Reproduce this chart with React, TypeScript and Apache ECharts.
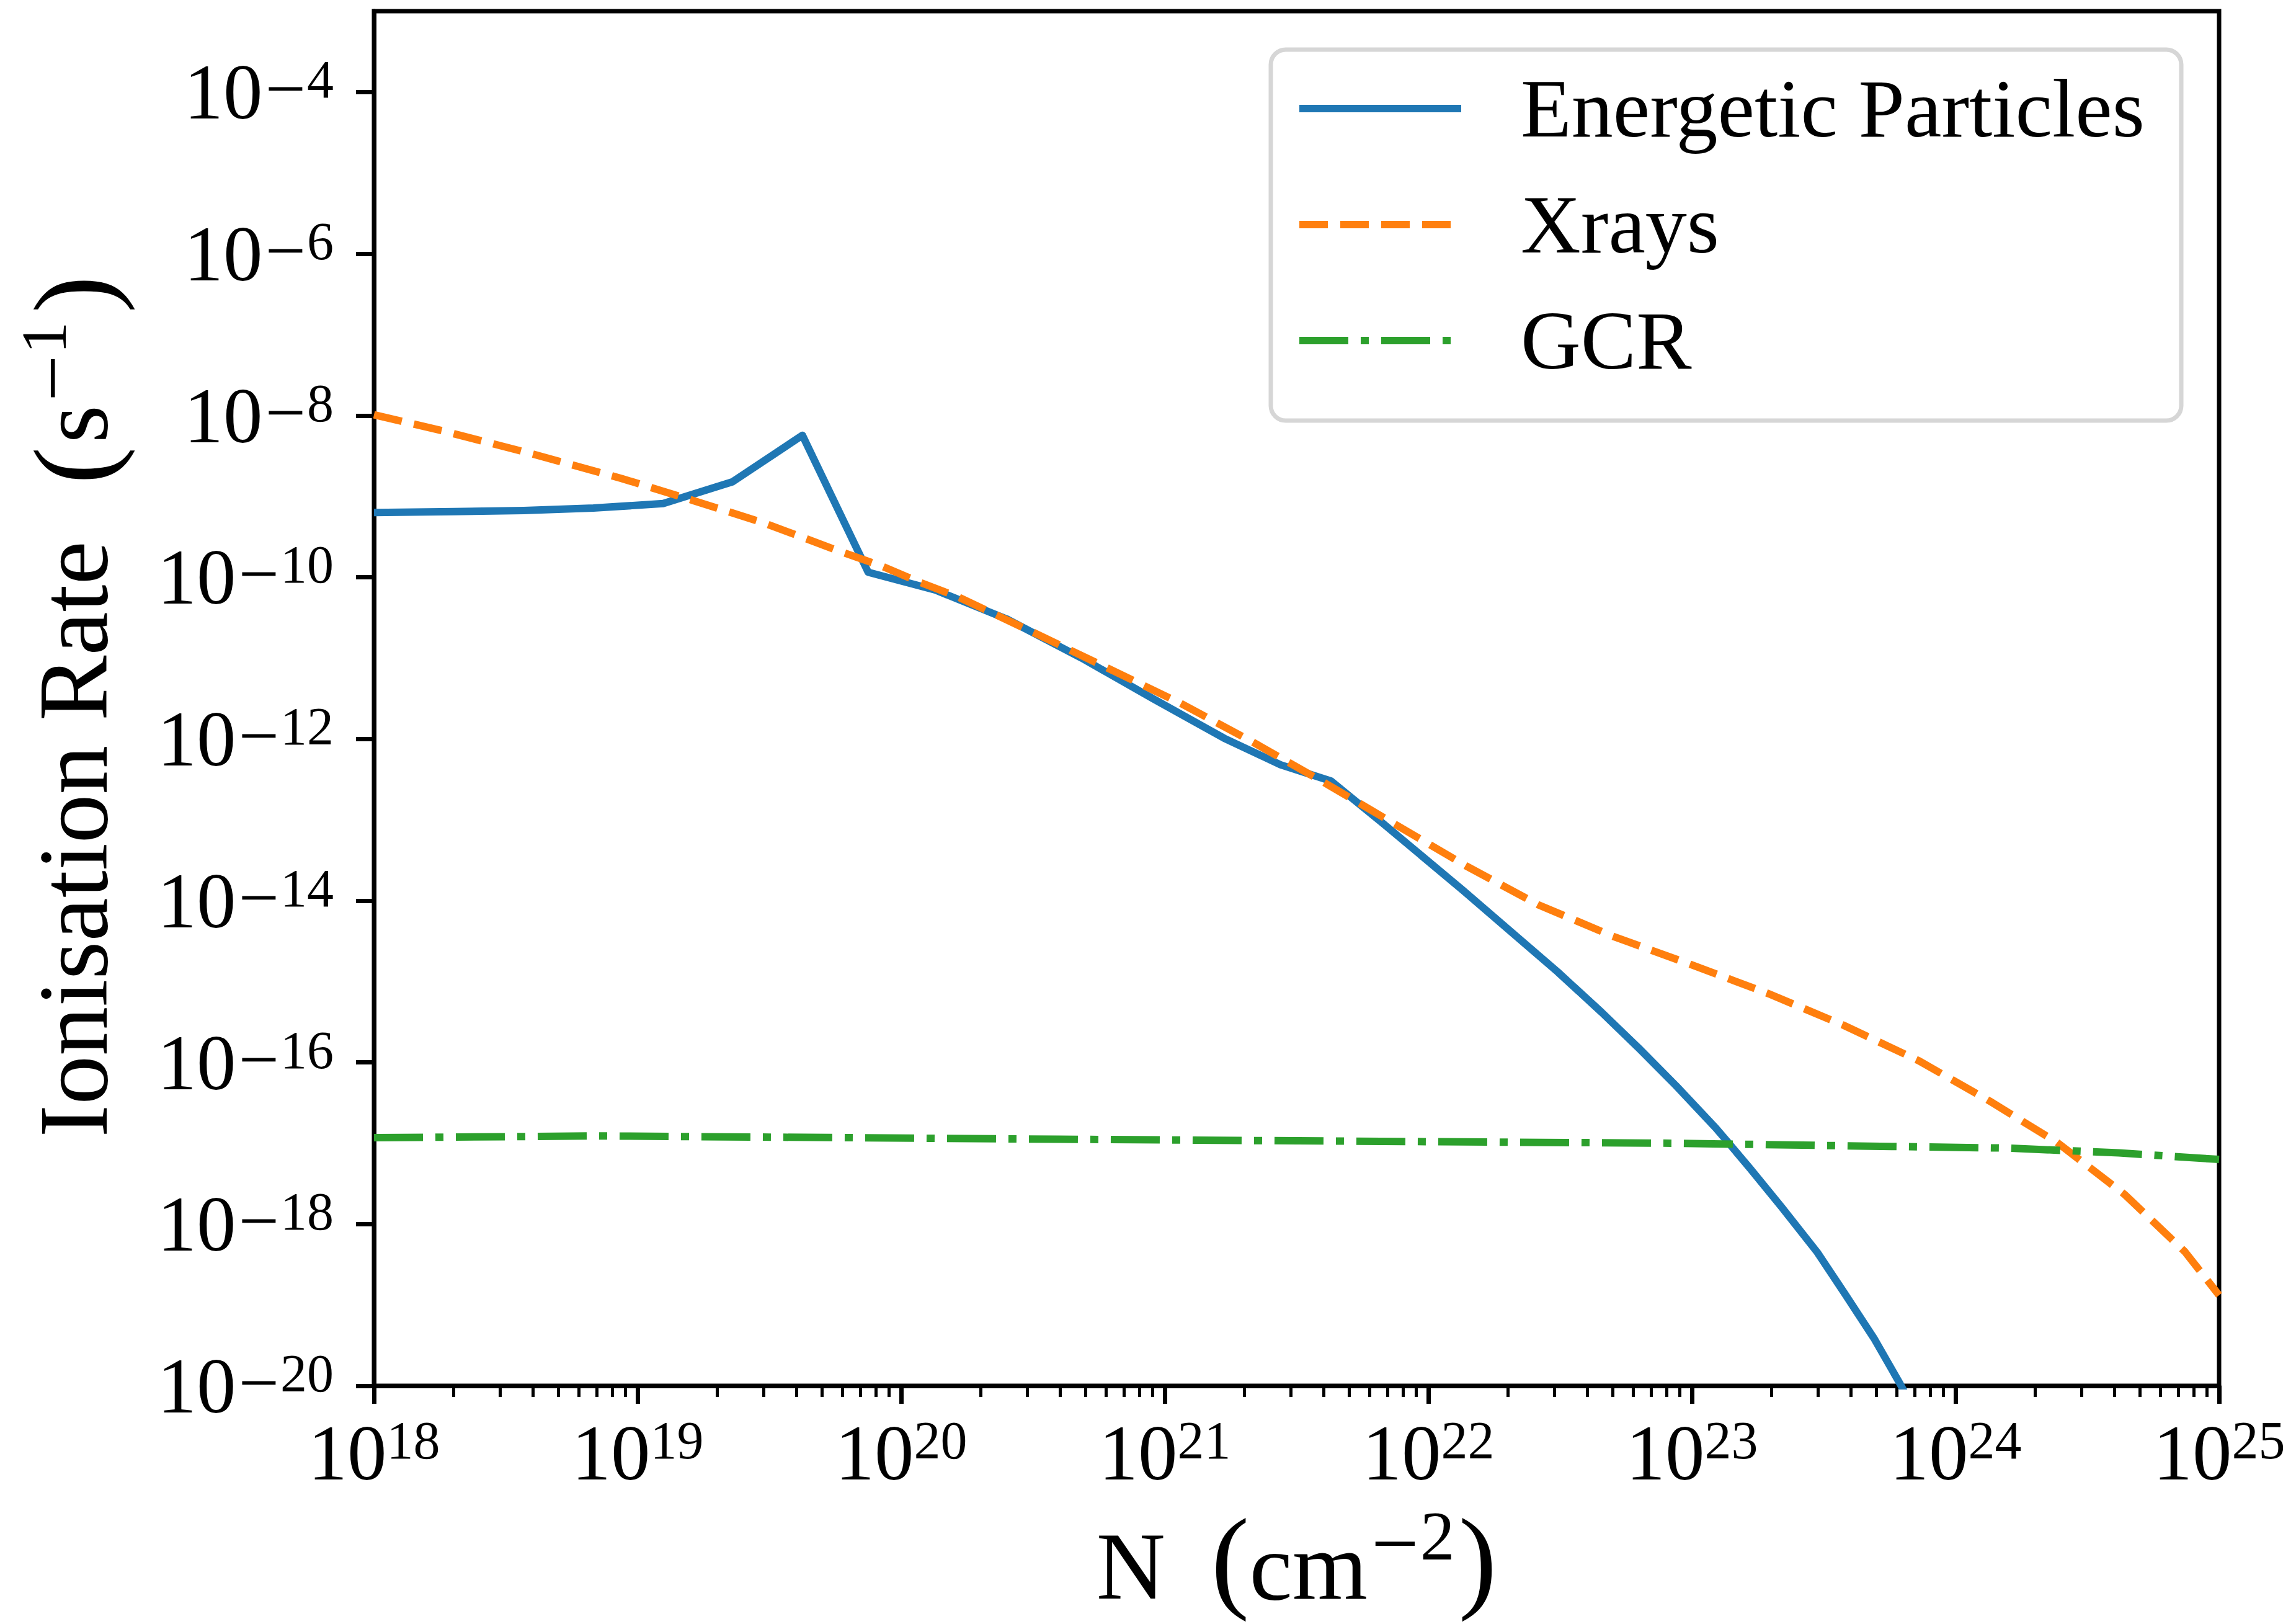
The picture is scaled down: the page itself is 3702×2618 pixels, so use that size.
import { useEffect, useRef } from 'react';
import * as echarts from 'echarts';

// ---- data ----
const EP_N = [1e18, 2.0e18, 3.7e18, 6.8e18, 1.25e19, 2.29e19, 4.22e19, 7.5e19, 1.35e20, 2.51e20, 4.84e20, 9.0e20, 1.68e21, 2.75e21, 4.27e21, 6.76e21, 1.35e22, 3.09e22, 4.54e22, 6.31e22, 8.71e22, 1.23e23, 1.38e23, 1.66e23, 2.19e23, 2.99e23, 3.8e23, 4.9e23, 6.17e23, 7.08e23];
const EP_RATE = [6.31e-10, 6.46e-10, 6.68e-10, 7.16e-10, 8.13e-10, 1.51e-9, 5.69e-9, 1.15e-10, 6.92e-11, 3.05e-11, 1.0e-11, 3.16e-12, 1.02e-12, 4.79e-13, 3.02e-13, 8.9e-14, 1.35e-14, 1.32e-15, 4.17e-16, 1.48e-16, 5.13e-17, 1.55e-17, 1.0e-17, 4.9e-18, 1.62e-18, 4.47e-19, 1.38e-19, 3.89e-20, 1.05e-20, 4.5e-21];

const XR_N = [1e18, 1.82e18, 3.98e18, 8.71e18, 1.62e19, 3.02e19, 5.62e19, 8.41e19, 1.17e20, 1.66e20, 3.16e20, 6.03e20, 1.15e21, 2.16e21, 4.03e21, 7.52e21, 1.39e22, 2.61e22, 5.01e22, 9.91e22, 1.95e23, 3.76e23, 7.24e23, 1.35e24, 2.43e24, 4.37e24, 7.41e24, 1e25];
const XR_RATE = [1.02e-8, 6.46e-9, 3.35e-9, 1.66e-9, 8.91e-10, 4.68e-10, 2.19e-10, 1.38e-10, 8.71e-11, 5.62e-11, 2.09e-11, 7.59e-12, 2.75e-12, 9.12e-13, 2.88e-13, 8.71e-14, 2.69e-14, 8.91e-15, 3.63e-15, 1.62e-15, 7.08e-16, 2.88e-16, 1.05e-16, 3.31e-17, 1.02e-17, 2.34e-18, 4.57e-19, 1.32e-19];

const GCR_N = [1e18, 7.1e18, 6.3e19, 4.0e20, 3.2e21, 8.5e22, 3.76e23, 1.58e24, 4.17e24, 1e25];
const GCR_RATE = [1.17e-17, 1.23e-17, 1.17e-17, 1.12e-17, 1.07e-17, 1.0e-17, 9.3e-18, 8.7e-18, 7.6e-18, 6.3e-18];

const SERIES_NAMES = ['Energetic Particles', 'Xrays', 'GCR'];
const COLORS = ['#1f77b4', '#ff7f0e', '#2ca02c'];

const X_MIN = 1e18;
const X_MAX = 1e25;
const Y_MIN = 1e-20;
const Y_MAX = 1e-3;
const Y_TICKS = [1e-20, 1e-18, 1e-16, 1e-14, 1e-12, 1e-10, 1e-8, 1e-6, 1e-4];
const X_DECADES = [1e18, 1e19, 1e20, 1e21, 1e22, 1e23, 1e24];
const X_MINOR = X_DECADES.flatMap((d) => [2, 3, 4, 5, 6, 7, 8, 9].map((m) => m * d));

// ---- styling ----
const FONT = "'Liberation Serif', 'Times New Roman', serif";
const LW = 12;
const DASH = [46, 20];
const DASHDOT = [79, 20, 13, 20];

const expLabel = (v: number) => {
  const e = Math.round(Math.log10(v));
  return e < 0 ? `{b|10}{m|−}{s|${-e}}` : `{b|10}{s|${e}}`;
};

const tickRich = {
  b: { fontSize: 127, lineHeight: 126, fontFamily: FONT, color: '#000', verticalAlign: 'middle' },
  m: { fontSize: 116, lineHeight: 70, fontFamily: FONT, color: '#000', verticalAlign: 'top', padding: [0, 2, 0, 4] },
  s: { fontSize: 86, lineHeight: 76, fontFamily: FONT, color: '#000', verticalAlign: 'top' },
};

export default function App() {
  const ref = useRef<HTMLDivElement>(null);

  useEffect(() => {
    const chart = echarts.init(ref.current!, null, { renderer: 'svg' });

    const legendRows = SERIES_NAMES.map((name, i) => {
      const y = 175 + i * 187;
      const dash = i === 0 ? undefined : i === 1 ? DASH : DASHDOT;
      return [
        {
          type: 'line',
          shape: { x1: 2095, y1: y, x2: 2356, y2: y },
          style: { stroke: COLORS[i], lineWidth: LW, lineDash: dash, lineCap: 'butt' },
        },
        {
          type: 'text',
          x: 2452,
          y,
          style: { text: name, fontSize: 134, fontFamily: FONT, fill: '#000', verticalAlign: 'middle', align: 'left' },
        },
      ];
    }).flat();

    const option: any = {
      animation: false,
      backgroundColor: '#fff',
      textStyle: { fontFamily: FONT, color: '#000' },
      grid: {
        left: 603, top: 18, width: 2975, height: 2216,
        show: true, borderColor: '#000', borderWidth: 7, backgroundColor: 'transparent',
        containLabel: false,
      },
      xAxis: [
        {
          type: 'log', logBase: 10, min: X_MIN, max: X_MAX, position: 'bottom',
          axisLine: { show: true, lineStyle: { color: '#000', width: 7 } },
          axisTick: { show: true, length: 29, lineStyle: { color: '#000', width: 7 } },
          axisLabel: { formatter: expLabel, rich: tickRich, margin: 45, color: '#000' },
          splitLine: { show: false },
          minorTick: { show: false },
          name: '{n|N}{p1|(}{t|cm}{m|−}{s|2}{p|)}',
          nameLocation: 'middle',
          nameGap: 186,
          nameTextStyle: {
            fontFamily: FONT, color: '#000',
            rich: {
              n: { fontSize: 154, lineHeight: 210, fontFamily: FONT, verticalAlign: 'middle' },
              p1: { fontSize: 185, lineHeight: 160, fontFamily: FONT, verticalAlign: 'top', padding: [0, 0, 0, 74] },
              p: { fontSize: 185, lineHeight: 160, fontFamily: FONT, verticalAlign: 'top', padding: [0, 0, 0, 6] },
              t: { fontSize: 156, lineHeight: 210, fontFamily: FONT, verticalAlign: 'middle' },
              m: { fontSize: 136, lineHeight: 118, fontFamily: FONT, verticalAlign: 'top', padding: [0, 2, 0, 6] },
              s: { fontSize: 112, lineHeight: 128, fontFamily: FONT, verticalAlign: 'top' },
            },
          },
        },
        {
          type: 'log', logBase: 10, min: X_MIN, max: X_MAX, position: 'bottom', gridIndex: 0,
          axisLine: { show: false },
          axisTick: { show: true, length: 18, lineStyle: { color: '#000', width: 5 }, customValues: X_MINOR },
          axisLabel: { show: false },
          splitLine: { show: false },
          minorTick: { show: false },
        },
      ],
      yAxis: {
        type: 'log', logBase: 10, min: Y_MIN, max: Y_MAX,
        axisLine: { show: true, lineStyle: { color: '#000', width: 7 } },
        axisTick: { show: true, length: 29, lineStyle: { color: '#000', width: 7 }, customValues: Y_TICKS },
        axisLabel: { customValues: Y_TICKS, formatter: expLabel, rich: tickRich, margin: 65, color: '#000' },
        splitLine: { show: false },
        minorTick: { show: false },
        name: '{a|Ionisation Rate}{p1|(}{b|s}{m|−}{s|1}{p|)}',
        nameLocation: 'middle',
        nameGap: 385,
        nameRotate: 90,
        nameTextStyle: {
          fontFamily: FONT, color: '#000',
          rich: {
            a: { fontSize: 158, lineHeight: 200, fontFamily: FONT, verticalAlign: 'middle' },
            p1: { fontSize: 180, lineHeight: 200, fontFamily: FONT, verticalAlign: 'middle', padding: [0, 6, 0, 92] },
            p: { fontSize: 180, lineHeight: 200, fontFamily: FONT, verticalAlign: 'middle', padding: [0, 26, 0, 14] },
            b: { fontSize: 158, lineHeight: 200, fontFamily: FONT, verticalAlign: 'middle' },
            m: { fontSize: 132, lineHeight: 120, fontFamily: FONT, verticalAlign: 'top', padding: [0, 2, 0, 6] },
            s: { fontSize: 104, lineHeight: 130, fontFamily: FONT, verticalAlign: 'top' },
          },
        },
      },
      series: [
        {
          type: 'line', name: SERIES_NAMES[0], xAxisIndex: 0, yAxisIndex: 0,
          data: EP_N.map((n, i) => [n, EP_RATE[i]]),
          symbol: 'none', showSymbol: false, clip: true,
          lineStyle: { color: COLORS[0], width: LW, join: 'round', cap: 'butt' },
          itemStyle: { color: COLORS[0] },
        },
        {
          type: 'line', name: SERIES_NAMES[1], xAxisIndex: 0, yAxisIndex: 0,
          data: XR_N.map((n, i) => [n, XR_RATE[i]]),
          symbol: 'none', showSymbol: false, clip: true,
          lineStyle: { color: COLORS[1], width: LW, type: DASH, join: 'round', cap: 'butt' },
          itemStyle: { color: COLORS[1] },
        },
        {
          type: 'line', name: SERIES_NAMES[2], xAxisIndex: 0, yAxisIndex: 0,
          data: GCR_N.map((n, i) => [n, GCR_RATE[i]]),
          symbol: 'none', showSymbol: false, clip: true,
          lineStyle: { color: COLORS[2], width: LW, type: DASHDOT, join: 'round', cap: 'butt' },
          itemStyle: { color: COLORS[2] },
        },
      ],
      graphic: [
        {
          type: 'group',
          z: 100,
          children: [
            {
              type: 'rect',
              shape: { x: 2049, y: 80, width: 1468, height: 598, r: 24 },
              style: { fill: 'rgba(255,255,255,0.8)', stroke: '#d6d6d6', lineWidth: 7 },
            },
            ...legendRows,
          ],
        },
      ],
    };

    chart.setOption(option);
    return () => chart.dispose();
  }, []);

  return (
    <div
      ref={ref}
      style={{ position: 'absolute', left: 0, top: 0, width: 3702, height: 2618, background: '#fff' }}
    />
  );
}
